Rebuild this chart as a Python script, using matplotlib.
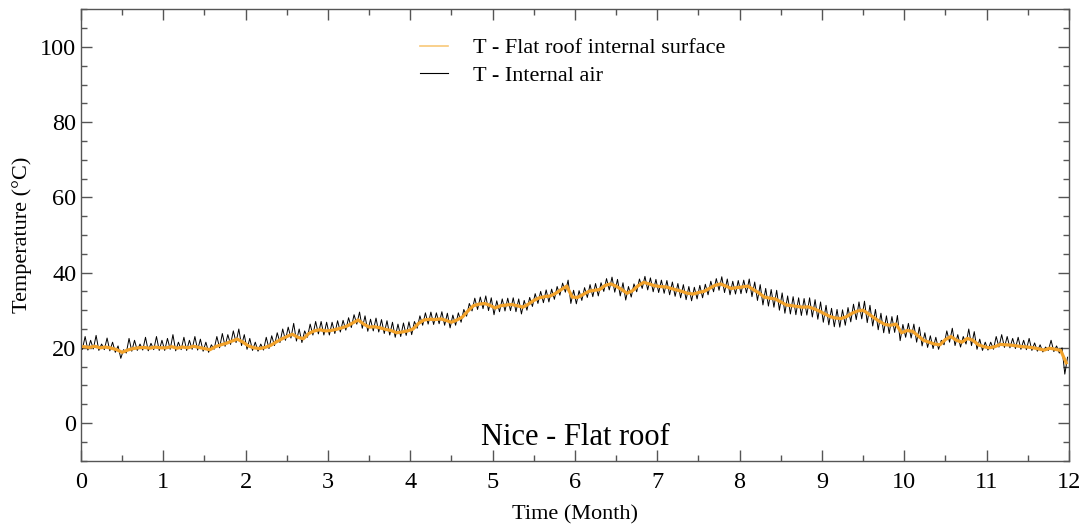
import numpy as np
import matplotlib
matplotlib.use("Agg")
import matplotlib.pyplot as plt
from matplotlib.ticker import MultipleLocator

# flat roof internal surface temperature, 15 readings per month (degC)
surf_m01 = [20.3, 20.1, 20.4, 20.0, 20.2, 19.9, 19.5, 18.8, 19.4, 19.8, 20.0, 20.1, 19.9, 20.2, 20.0]
surf_m02 = [20.0, 20.3, 19.9, 20.2, 20.0, 20.4, 20.1, 19.8, 19.5, 20.3, 20.8, 21.2, 21.8, 22.3, 21.5]
surf_m03 = [20.5, 20.0, 19.8, 20.1, 20.6, 21.5, 22.3, 23.0, 23.6, 22.8, 22.4, 23.8, 24.5, 24.8, 24.5]
surf_m04 = [24.6, 24.9, 25.3, 25.8, 26.6, 27.4, 26.3, 25.5, 25.6, 25.3, 24.9, 24.6, 24.0, 24.2, 24.5]
surf_m05 = [25.0, 26.5, 27.4, 27.6, 27.5, 27.7, 27.3, 26.8, 27.4, 28.2, 29.8, 31.2, 31.6, 31.8, 31.3]
surf_m06 = [30.6, 31.2, 31.4, 31.5, 31.2, 30.8, 31.6, 32.6, 33.3, 33.6, 33.8, 34.5, 35.5, 36.4, 33.5]
surf_m07 = [33.4, 34.2, 35.0, 35.3, 35.5, 36.6, 37.0, 36.4, 35.5, 34.5, 35.2, 36.5, 37.4, 37.0, 36.5]
surf_m08 = [36.3, 36.2, 35.8, 35.4, 35.0, 34.5, 34.3, 34.7, 35.0, 35.8, 36.6, 37.0, 36.4, 35.8, 36.0]
surf_m09 = [36.2, 36.4, 35.5, 34.6, 33.5, 33.2, 33.0, 32.2, 31.4, 31.2, 31.0, 30.8, 30.9, 30.4, 29.8]
surf_m10 = [29.0, 28.3, 27.9, 27.8, 28.3, 29.2, 29.8, 30.0, 29.0, 28.0, 27.0, 26.2, 26.0, 26.3, 24.0]
surf_m11 = [24.6, 24.4, 23.2, 22.0, 21.5, 21.0, 20.8, 22.2, 23.0, 22.0, 21.5, 22.5, 22.0, 20.8, 20.3]
surf_m12 = [20.0, 20.3, 20.9, 20.8, 20.7, 20.5, 20.3, 20.2, 20.0, 19.7, 19.4, 19.9, 19.6, 19.3, 16.0]

# internal air: daily highs and lows, 15 per month (degC)
air_hi_m01 = [23.0, 22.0, 23.3, 21.0, 22.6, 21.5, 20.5, 19.5, 22.5, 22.0, 21.0, 22.8, 21.2, 23.0, 22.0]
air_lo_m01 = [19.6, 19.4, 19.7, 19.3, 19.5, 19.2, 18.8, 17.2, 18.6, 19.1, 19.3, 19.4, 19.2, 19.5, 19.3]
air_hi_m02 = [22.5, 23.5, 21.5, 22.8, 22.0, 23.0, 22.3, 21.5, 20.8, 23.0, 23.8, 23.5, 24.5, 25.0, 23.5]
air_lo_m02 = [19.3, 19.6, 19.2, 19.5, 19.3, 19.6, 19.4, 19.1, 18.8, 19.6, 20.0, 20.4, 20.9, 21.4, 20.6]
air_hi_m03 = [22.5, 21.5, 21.0, 22.8, 23.2, 24.0, 25.0, 25.5, 26.5, 25.0, 24.5, 26.3, 27.0, 27.0, 26.8]
air_lo_m03 = [19.6, 19.3, 19.1, 19.4, 19.8, 20.6, 21.4, 22.0, 22.6, 21.8, 21.4, 22.8, 23.4, 23.7, 23.4]
air_hi_m04 = [26.8, 27.2, 27.3, 28.0, 28.8, 29.5, 28.5, 27.6, 27.9, 27.5, 27.2, 26.8, 26.3, 26.6, 26.9]
air_lo_m04 = [23.4, 23.8, 24.2, 24.7, 25.4, 26.3, 25.2, 24.4, 24.5, 24.2, 23.8, 23.4, 22.8, 23.0, 23.3]
air_hi_m05 = [27.0, 28.5, 29.3, 29.5, 29.3, 29.6, 29.2, 28.7, 29.3, 30.2, 31.8, 33.2, 33.5, 33.8, 33.3]
air_lo_m05 = [23.5, 25.2, 26.0, 26.3, 26.2, 26.4, 26.0, 25.3, 26.0, 26.8, 28.4, 29.8, 30.2, 30.4, 29.9]
air_hi_m06 = [32.5, 33.0, 33.2, 33.3, 33.0, 32.6, 33.4, 34.4, 35.0, 35.4, 35.6, 36.3, 37.2, 38.0, 35.3]
air_lo_m06 = [28.8, 29.6, 29.8, 29.9, 29.6, 29.0, 30.0, 31.0, 31.8, 32.0, 32.2, 32.9, 34.0, 34.8, 31.8]
air_hi_m07 = [35.2, 36.0, 36.8, 37.1, 37.3, 38.4, 38.8, 38.2, 37.3, 36.3, 37.0, 38.3, 39.0, 38.6, 38.2]
air_lo_m07 = [31.7, 32.6, 33.4, 33.6, 33.8, 35.0, 35.4, 34.8, 33.8, 32.7, 33.5, 34.9, 35.8, 35.4, 34.9]
air_hi_m08 = [38.0, 37.9, 37.5, 37.1, 36.8, 36.3, 36.1, 36.6, 36.9, 37.7, 38.4, 38.9, 38.3, 37.7, 37.9]
air_lo_m08 = [34.7, 34.5, 34.1, 33.7, 33.3, 32.8, 32.5, 33.0, 33.3, 34.1, 34.9, 35.3, 34.7, 34.1, 34.3]
air_hi_m09 = [38.0, 38.3, 37.5, 36.8, 35.8, 35.5, 35.3, 34.6, 33.8, 33.6, 33.3, 33.1, 33.3, 32.8, 32.2]
air_lo_m09 = [34.4, 34.6, 33.6, 32.6, 31.4, 31.1, 30.8, 30.0, 29.2, 29.0, 28.8, 28.6, 28.7, 28.2, 27.6]
air_hi_m10 = [31.3, 30.5, 30.2, 30.1, 30.7, 31.6, 32.2, 32.4, 31.3, 30.2, 29.2, 28.5, 28.3, 28.6, 26.2]
air_lo_m10 = [26.8, 26.1, 25.6, 25.5, 26.0, 26.9, 27.5, 27.7, 26.7, 25.8, 24.8, 24.0, 23.8, 24.1, 21.9]
air_hi_m11 = [26.5, 26.3, 25.5, 24.0, 23.2, 22.8, 22.0, 24.5, 25.2, 23.5, 23.0, 25.0, 24.3, 22.3, 21.5]
air_lo_m11 = [22.8, 22.6, 21.5, 20.5, 20.1, 19.8, 19.6, 20.8, 21.5, 20.6, 20.2, 21.0, 20.6, 19.6, 19.3]
air_hi_m12 = [21.5, 23.0, 23.5, 23.0, 22.5, 22.8, 22.0, 22.5, 21.3, 20.8, 20.2, 22.0, 20.5, 20.0, 17.5]
air_lo_m12 = [19.4, 19.6, 20.2, 20.1, 20.0, 19.8, 19.6, 19.5, 19.3, 19.1, 18.9, 19.3, 19.0, 18.6, 13.0]

surf = np.concatenate([surf_m01, surf_m02, surf_m03, surf_m04, surf_m05, surf_m06,
                       surf_m07, surf_m08, surf_m09, surf_m10, surf_m11, surf_m12])
air_hi = np.concatenate([air_hi_m01, air_hi_m02, air_hi_m03, air_hi_m04, air_hi_m05, air_hi_m06,
                         air_hi_m07, air_hi_m08, air_hi_m09, air_hi_m10, air_hi_m11, air_hi_m12])
air_lo = np.concatenate([air_lo_m01, air_lo_m02, air_lo_m03, air_lo_m04, air_lo_m05, air_lo_m06,
                         air_lo_m07, air_lo_m08, air_lo_m09, air_lo_m10, air_lo_m11, air_lo_m12])

# air alternates low (night) / high (day)
air = np.empty(2 * len(air_hi))
air[0::2] = air_lo
air[1::2] = air_hi

n = len(surf)
t_surf = (np.arange(n) + 0.5) * 12.0 / n
t_air = (np.arange(2 * n) + 0.5) * 12.0 / (2 * n)

plt.rcParams['font.family'] = ['Liberation Serif', 'DejaVu Serif']

fig = plt.figure(figsize=(10.83, 5.24), dpi=100)
ax = fig.add_axes([0.0748, 0.121, 0.9122, 0.861])

ax.plot(t_air, air, color='black', lw=0.7, label='T - Internal air', zorder=2)
ax.plot(t_surf, surf, color='#f2a22a', lw=2.3, label='T - Flat roof internal surface', zorder=3)

ax.set_xlim(0, 12)
ax.set_ylim(-10, 110)
ax.xaxis.set_major_locator(MultipleLocator(1))
ax.xaxis.set_minor_locator(MultipleLocator(0.5))
ax.yaxis.set_minor_locator(MultipleLocator(5))
ax.set_yticks([0, 20, 40, 60, 80, 100])
ax.tick_params(which='both', direction='in', top=True, right=True, color='#555555')
ax.tick_params(which='major', length=8, width=1, labelsize=17.5)
ax.tick_params(which='minor', length=4.5, width=1)
ax.tick_params(axis='x', which='major', pad=8)
ax.tick_params(axis='y', which='major', pad=3.5)
for s in ax.spines.values():
    s.set_color('#555555')
    s.set_linewidth(1)

ax.set_xlabel('Time (Month)', fontsize=16, labelpad=9)
ax.set_ylabel('Temperature (°C)', fontsize=16, labelpad=6)

ax.text(0.5, 0.052, 'Nice - Flat roof', transform=ax.transAxes, ha='center', va='center', fontsize=22)

handles, labels = ax.get_legend_handles_labels()
leg = ax.legend(handles[::-1], labels[::-1], loc='upper left', bbox_to_anchor=(0.343, 0.937),
                frameon=False, fontsize=16, handlelength=1.25, handletextpad=1.15,
                labelspacing=0.3, borderpad=0, borderaxespad=0)
leg.get_lines()[0].set_linewidth(1.2)
leg.get_lines()[0].set_color('#f8c878')
leg.get_lines()[1].set_linewidth(0.8)

fig.savefig('out.png', dpi=100)
